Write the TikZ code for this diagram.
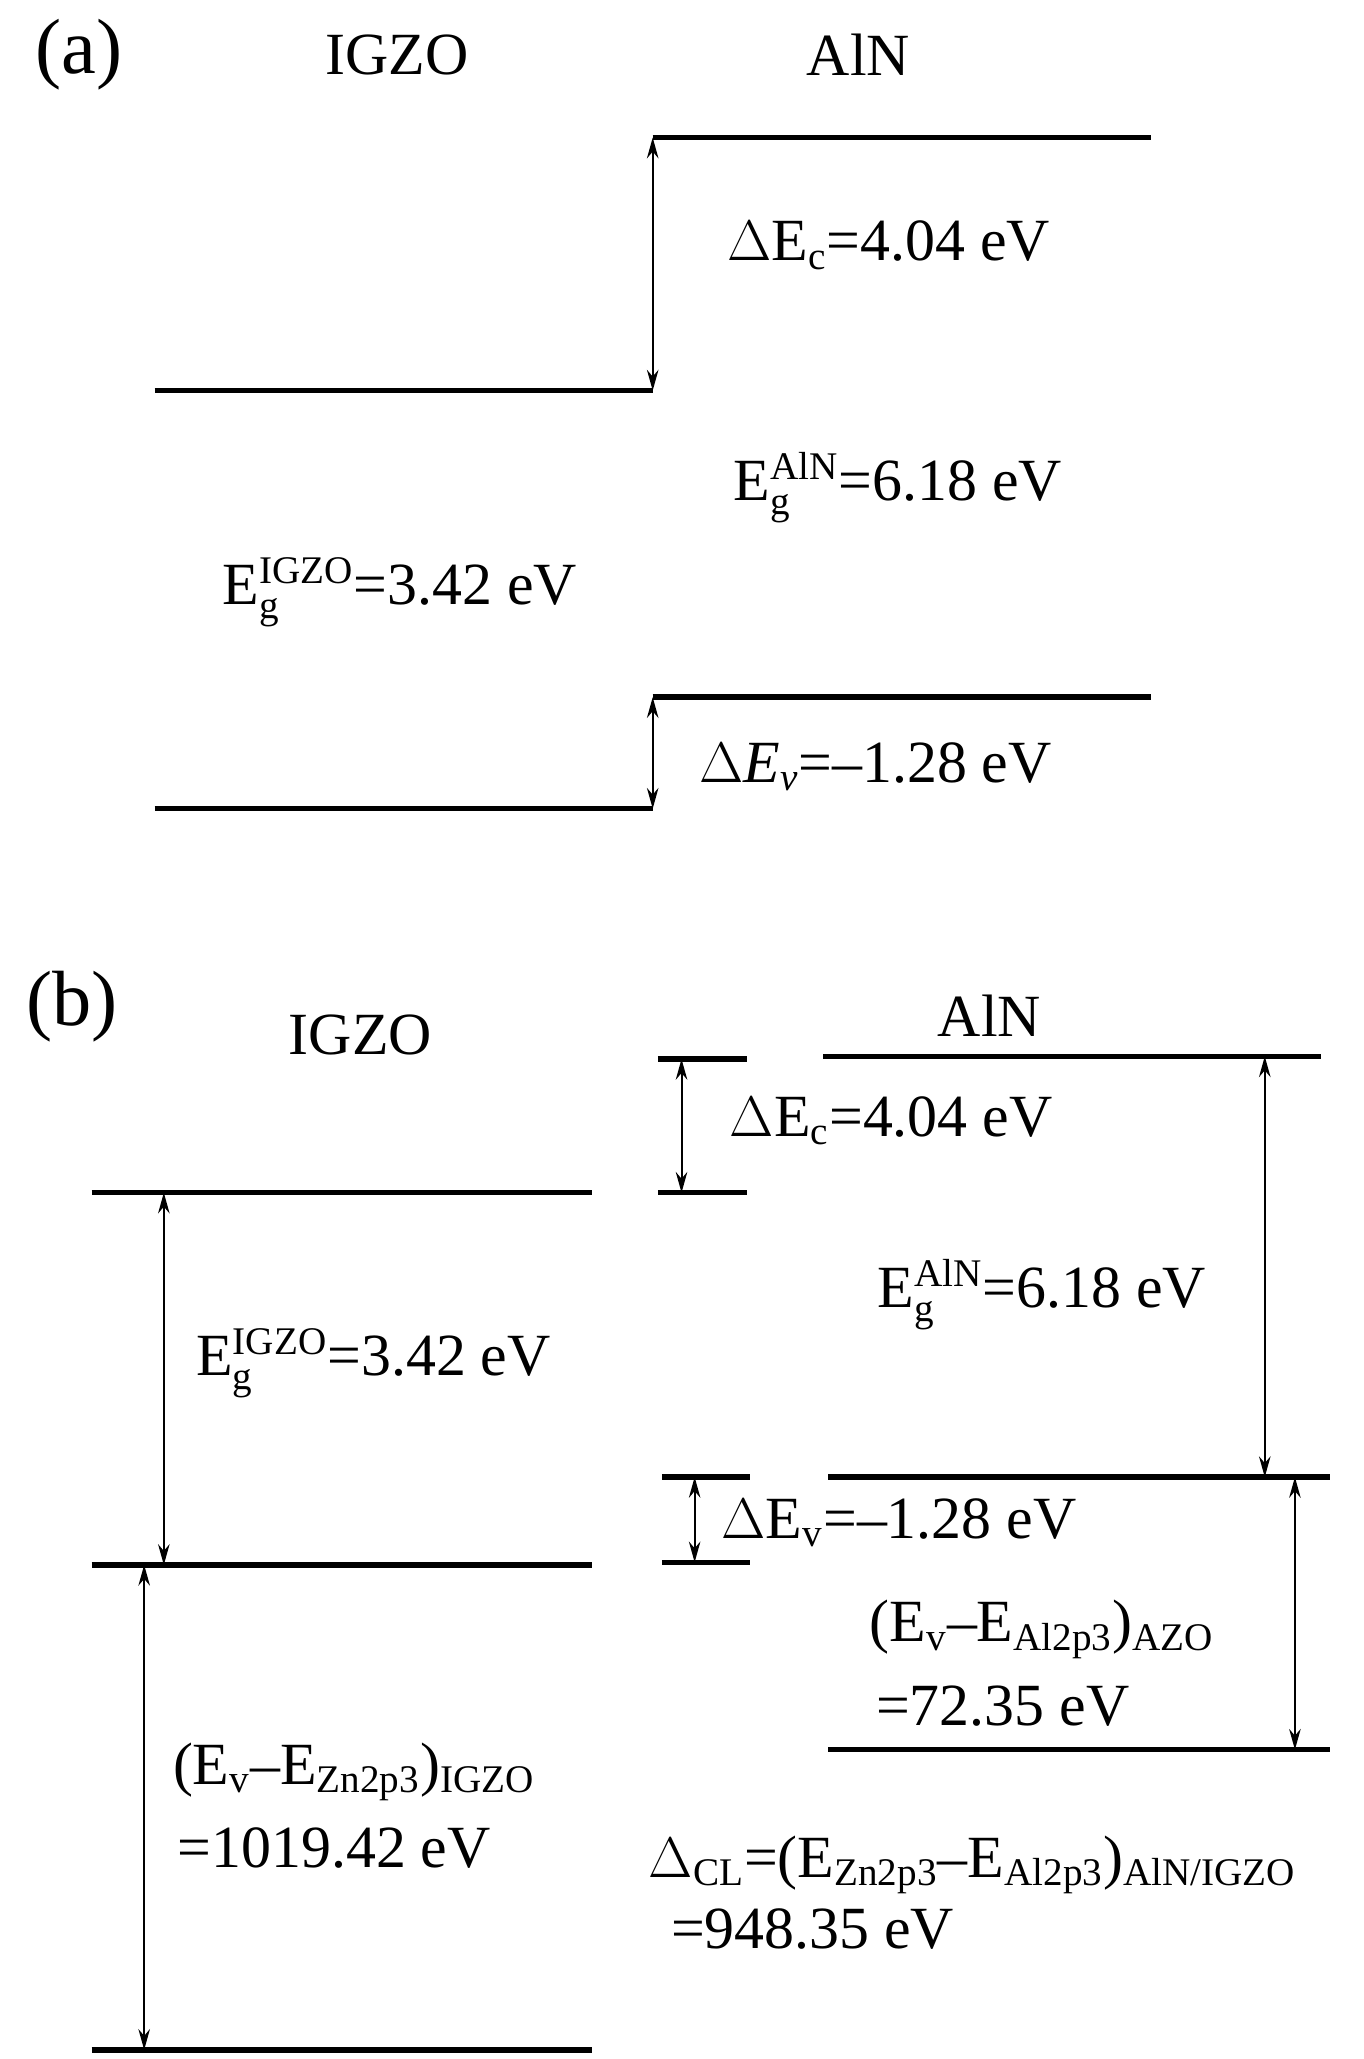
\documentclass[tikz,border=0pt]{standalone}
\usepackage{amsmath}
\usepackage{fontspec}
\setmainfont{Liberation Serif}
\usetikzlibrary{arrows.meta}
\newcommand\ts[1]{\text{\fontsize{17}{19}\selectfont #1}}
\begin{document}
\begin{tikzpicture}[x=0.02cm,y=-0.02cm,
  level/.style={line width=2.4pt},
  gap/.style={{Stealth[length=9pt,width=5pt]}-{Stealth[length=9pt,width=5pt]},line width=0.9pt},
  lab/.style={font=\fontsize{26}{30}\selectfont,inner sep=0pt},
  tag/.style={font=\fontsize{34}{38}\selectfont,inner sep=0pt}]
\useasboundingbox (0,0) rectangle (1040,1571);
% (a)
\node[tag] (la) at (60,42) {(a)};
\node[lab] (ia) at (303,42) {IGZO};
\node[lab] (aa) at (655,42) {AlN};
\coordinate (acb1) at (498,105); \coordinate (acb2) at (878,105);
\coordinate (icb1) at (118,298); \coordinate (icb2) at (498,298);
\coordinate (avb1) at (498,532); \coordinate (avb2) at (878,532);
\coordinate (ivb1) at (118,617); \coordinate (ivb2) at (498,617);
\draw[level] (acb1) -- (acb2);
\draw[level] (icb1) -- (icb2);
\draw[level] (avb1) -- (avb2);
\draw[level] (ivb1) -- (ivb2);
\draw[gap] (acb1) -- (icb2);
\draw[gap] (avb1) -- (ivb2);
\node[lab] (dca) at (678,187) {$\Delta$E$_{\ts{c}}$=4.04 eV};
\node[lab] (gaa) at (685,372) {E$^{\ts{AlN}}_{\ts{g}}$=6.18 eV};
\node[lab] (gia) at (305,452) {E$^{\ts{IGZO}}_{\ts{g}}$=3.42 eV};
\node[lab] (dva) at (668,585) {\textit{$\Delta$E$_{\ts{\itshape v}}$}=–1.28 eV};
% (b)
\node[tag] (lb) at (55,768) {(b)};
\node[lab] (ib) at (275,790) {IGZO};
\node[lab] (ab) at (755,775) {AlN};
\coordinate (s1a) at (502,808); \coordinate (s1b) at (570,808);
\coordinate (s2a) at (502,910); \coordinate (s2b) at (570,910);
\draw[level] (s1a) -- (s1b);
\draw[level] (s2a) -- (s2b);
\draw[gap] (520,808) -- (520,910);
\node[lab] (dcb) at (680,855) {$\Delta$E$_{\ts{c}}$=4.04 eV};
\coordinate (bacb1) at (628,806); \coordinate (bacb2) at (1008,806);
\draw[level] (bacb1) -- (bacb2);
\coordinate (bavb1) at (632,1127); \coordinate (bavb2) at (1015,1127);
\draw[level] (bavb1) -- (bavb2);
\draw[gap] (965,806) -- (965,1127);
\node[lab] (gab) at (795,988) {E$^{\ts{AlN}}_{\ts{g}}$=6.18 eV};
\coordinate (bicb1) at (70,910); \coordinate (bicb2) at (452,910);
\coordinate (bivb1) at (70,1194); \coordinate (bivb2) at (452,1194);
\draw[level] (bicb1) -- (bicb2);
\draw[level] (bivb1) -- (bivb2);
\draw[gap] (125,910) -- (125,1194);
\node[lab] (gib) at (285,1040) {E$^{\ts{IGZO}}_{\ts{g}}$=3.42 eV};
\coordinate (s3a) at (505,1127); \coordinate (s3b) at (572,1127);
\coordinate (s4a) at (505,1192); \coordinate (s4b) at (572,1192);
\draw[level] (s3a) -- (s3b);
\draw[level] (s4a) -- (s4b);
\draw[gap] (530,1127) -- (530,1192);
\node[lab] (dvb) at (686,1162) {$\Delta$E$_{\ts{v}}$=–1.28 eV};
\coordinate (bal1) at (632,1335); \coordinate (bal2) at (1015,1335);
\draw[level] (bal1) -- (bal2);
\draw[gap] (988,1127) -- (988,1335);
\node[lab] (azo) at (795,1243) {(E$_{\ts{v}}$–E$_{\ts{Al2p3}}$)$_{\ts{AZO}}$};
\node[lab] (azov) at (765,1302) {=72.35 eV};
\coordinate (bzn1) at (70,1564); \coordinate (bzn2) at (452,1564);
\draw[level] (bzn1) -- (bzn2);
\draw[gap] (110,1194) -- (110,1564);
\node[lab] (zn) at (270,1352) {(E$_{\ts{v}}$–E$_{\ts{Zn2p3}}$)$_{\ts{IGZO}}$};
\node[lab] (znv) at (255,1410) {=1019.42 eV};
\node[lab] (cl) at (742,1423) {$\Delta_{\ts{CL}}$=(E$_{\ts{Zn2p3}}$–E$_{\ts{Al2p3}}$)$_{\ts{AlN/IGZO}}$};
\node[lab] (clv) at (620,1472) {=948.35 eV};
\end{tikzpicture}
\end{document}
